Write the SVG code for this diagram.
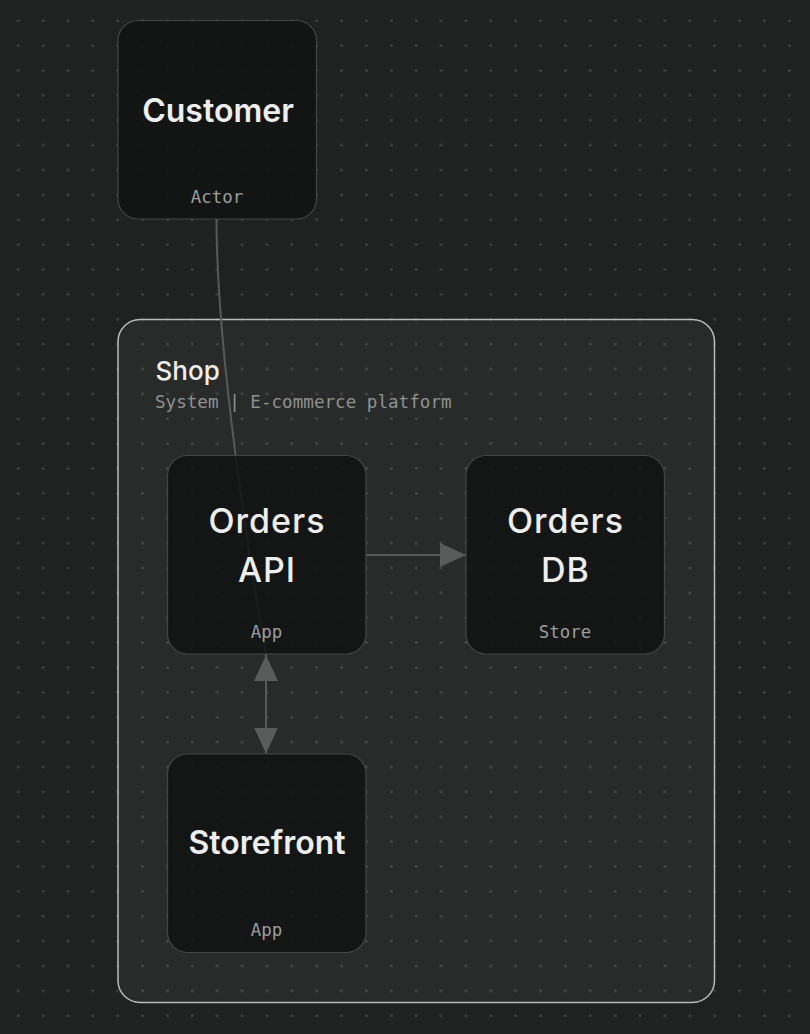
<svg xmlns="http://www.w3.org/2000/svg" width="810" height="1034" viewBox="0 0 810 1034">
  <defs>
    <pattern id="dots" x="5.76" y="8.26" width="24.875" height="24.875" patternUnits="userSpaceOnUse">
      <circle cx="12.44" cy="12.44" r="1.6" fill="#3b3d3d"/>
    </pattern>
    <marker id="arrow" viewBox="0 0 26 24" refX="26" refY="12" markerWidth="26" markerHeight="24" markerUnits="userSpaceOnUse" orient="auto-start-reverse">
      <path d="M0,0 L26,12 L0,24 Z" fill="#5a5b5b"/>
    </marker>
    <style>
      .node rect { fill: rgba(18,19,19,0.86); stroke: #444646; stroke-width: 1.2; }
      .title { font-family: Inter, "Noto Sans", sans-serif; fill: #eeeeee; text-anchor: middle; }
      .bold { font-weight: 600; font-size: 32px; }
      .med { font-weight: 500; font-size: 34px; letter-spacing: 1px; }
      .sub { font-family: "DejaVu Sans Mono", "Liberation Mono", monospace; font-size: 17.4px; fill: #9c9e9e; text-anchor: middle; }
      .edge { fill: none; stroke: #585a5a; stroke-width: 2; }
    </style>
  </defs>
  <rect width="810" height="1034" fill="#202121"/>
  <rect width="810" height="1034" fill="url(#dots)"/>

  <g id="shop">
    <rect x="118" y="319.5" width="596.5" height="683" rx="22" fill="rgba(255,255,255,0.045)" stroke="#b9baba" stroke-width="1.5"/>
    <text x="155.5" y="380" font-family="Inter, 'Noto Sans', sans-serif" font-size="26" font-weight="500" fill="#eeeeee">Shop</text>
    <text x="155" y="407.5" font-family="'DejaVu Sans Mono', 'Liberation Mono', monospace" font-size="17.6" fill="#8e9292">System | E-commerce platform</text>
  </g>

  <g id="connectors">
    <path class="edge" d="M216.5,219 C216.5,380 266,655 266,655" stroke="#606262" stroke-width="1.6"/>
    <path class="edge" d="M366,555 L466,555" marker-end="url(#arrow)"/>
    <path class="edge" d="M266,655 L266,753.5" stroke="#626464" marker-start="url(#arrow)" marker-end="url(#arrow)"/>
  </g>

  <g id="customer" class="node">
    <rect x="118" y="20.5" width="198.5" height="198.5" rx="20"/>
    <text class="title bold" x="218" y="121.5">Customer</text>
    <text class="sub" x="217" y="202.5">Actor</text>
  </g>

  <g id="orders-api" class="node">
    <rect x="167.5" y="455.5" width="198.5" height="198.5" rx="20"/>
    <text class="title med" x="267" y="533">Orders</text>
    <text class="title med" x="267" y="582">API</text>
    <text class="sub" x="266.5" y="638">App</text>
  </g>

  <g id="orders-db" class="node">
    <rect x="466" y="455.5" width="198.5" height="198.5" rx="20"/>
    <text class="title med" x="565.5" y="533">Orders</text>
    <text class="title med" x="565.5" y="582">DB</text>
    <text class="sub" x="565" y="638">Store</text>
  </g>

  <g id="storefront" class="node">
    <rect x="167.5" y="754" width="198.5" height="198.5" rx="20"/>
    <text class="title bold" x="267" y="853.5">Storefront</text>
    <text class="sub" x="266.5" y="936">App</text>
  </g>
</svg>
